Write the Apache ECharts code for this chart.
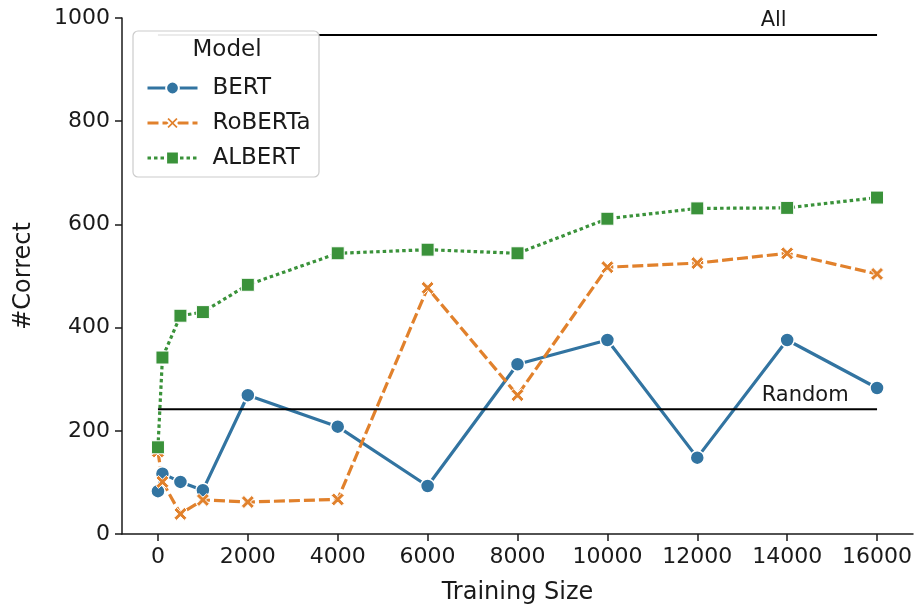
<!DOCTYPE html>
<html>
<head>
<meta charset="utf-8">
<script src="https://cdn.jsdelivr.net/npm/echarts@6/dist/echarts.min.js"></script>
<style>html,body{margin:0;padding:0;background:#fff}#c{width:918px;height:606px}</style>
</head>
<body>
<div id="c"></div>
<script>
const trainingSizes = [0, 100, 500, 1000, 2000, 4000, 6000, 8000, 10000, 12000, 14000, 16000];
const bert    = [83, 117, 101, 85, 269, 208, 93, 329, 376, 148, 376, 283];
const roberta = [160, 101, 39, 66, 62, 67, 477, 269, 517, 525, 544, 504];
const albert  = [168, 342, 423, 430, 483, 544, 551, 544, 611, 631, 632, 652];
const xTicks = [0, 2000, 4000, 6000, 8000, 10000, 12000, 14000, 16000];
const allValue = 967;
const randomValue = 242;
const refRange = [0, 16000];
const allLabelX = 13700;
const randomLabelX = 14400;

const FONT = 'DejaVu Sans';
const TXT = '#1a1a1a';
const BLUE = '#3274a1', ORANGE = '#e1812c', GREEN = '#3a923a';
const X_PATH = 'path://M0,2 L2,0 L5,3 L8,0 L10,2 L7,5 L10,8 L8,10 L5,7 L2,10 L0,8 L3,5 Z';

const pairs = arr => trainingSizes.map((x, i) => [x, arr[i]]);
const refLabel = (x, y, text) => ({
  symbol: 'circle', symbolSize: 1, silent: true,
  itemStyle: {opacity: 0},
  data: [{coord: [x, y], value: text}],
  label: {show: true, position: 'top', distance: 3, formatter: text,
          fontFamily: FONT, fontSize: 21, color: TXT, opacity: 1}
});

const chart = echarts.init(document.getElementById('c'), null, {renderer: 'canvas'});
chart.setOption({
  animation: false,
  backgroundColor: '#ffffff',
  textStyle: {fontFamily: FONT, color: TXT},
  grid: {left: 122, right: 5, top: 18, bottom: 72, containLabel: false, outerBoundsMode: 'none'},
  graphic: [
    {type: 'rect', z: 10, shape: {x: 133, y: 31, width: 186, height: 146, r: 5},
     style: {fill: 'rgba(255,255,255,0.92)', stroke: '#cccccc', lineWidth: 1.2}},
    {type: 'text', z: 11, x: 227, y: 50,
     style: {text: 'Model', fontFamily: FONT, fontSize: 23, fill: TXT, align: 'center', verticalAlign: 'middle'}}
  ],
  legend: {
    z: 20,
    orient: 'vertical',
    left: 141, top: 71,
    itemWidth: 50, itemHeight: 16, itemGap: 11,
    data: ['BERT', 'RoBERTa', 'ALBERT'],
    lineStyle: {width: 3},
    textStyle: {fontFamily: FONT, fontSize: 23, color: TXT, lineHeight: 24, padding: [0, 0, 0, 10]}
  },
  xAxis: {
    type: 'value', min: -800, max: 16800,
    name: 'Training Size', nameLocation: 'middle', nameGap: 47,
    nameTextStyle: {fontFamily: FONT, fontSize: 24, color: TXT},
    splitLine: {show: false},
    axisLine: {show: true, onZero: false, lineStyle: {color: TXT, width: 1.5}},
    axisTick: {show: true, length: 7, lineStyle: {color: TXT, width: 1.5}, customValues: xTicks},
    axisLabel: {fontFamily: FONT, fontSize: 22, color: TXT, margin: 12, customValues: xTicks, formatter: v => String(v)}
  },
  yAxis: {
    type: 'value', min: 0, max: 1000, interval: 200,
    name: '#Correct', nameLocation: 'middle', nameGap: 86, nameRotate: 90,
    nameTextStyle: {fontFamily: FONT, fontSize: 24, color: TXT},
    splitLine: {show: false},
    axisLine: {show: true, onZero: false, lineStyle: {color: TXT, width: 1.5}},
    axisTick: {show: true, length: 7, lineStyle: {color: TXT, width: 1.5}},
    axisLabel: {fontFamily: FONT, fontSize: 22, color: TXT, margin: 12, formatter: v => String(v)}
  },
  series: [
    {name: 'BERT', type: 'line', data: pairs(bert), color: BLUE,
     lineStyle: {width: 3.2, color: BLUE}, symbol: 'circle', symbolSize: 14,
     itemStyle: {color: BLUE, borderColor: '#fff', borderWidth: 1.5}},
    {name: 'RoBERTa', type: 'line', data: pairs(roberta), color: ORANGE,
     lineStyle: {width: 3.2, color: ORANGE, type: [11, 4]}, symbol: X_PATH, symbolSize: 13,
     itemStyle: {color: ORANGE, borderColor: '#fff', borderWidth: 1}},
    {name: 'ALBERT', type: 'line', data: pairs(albert), color: GREEN,
     lineStyle: {width: 3.2, color: GREEN, type: [3.5, 3]}, symbol: 'rect', symbolSize: 13,
     itemStyle: {color: GREEN, borderColor: '#fff', borderWidth: 1}},
    {name: 'All', type: 'line', data: refRange.map(x => [x, allValue]), symbol: 'none',
     lineStyle: {color: '#000', width: 2}, z: 3, silent: true,
     markPoint: refLabel(allLabelX, allValue, 'All')},
    {name: 'Random', type: 'line', data: refRange.map(x => [x, randomValue]), symbol: 'none',
     lineStyle: {color: '#000', width: 2}, z: 3, silent: true,
     markPoint: refLabel(randomLabelX, randomValue, 'Random')}
  ]
});
</script>
</body>
</html>
